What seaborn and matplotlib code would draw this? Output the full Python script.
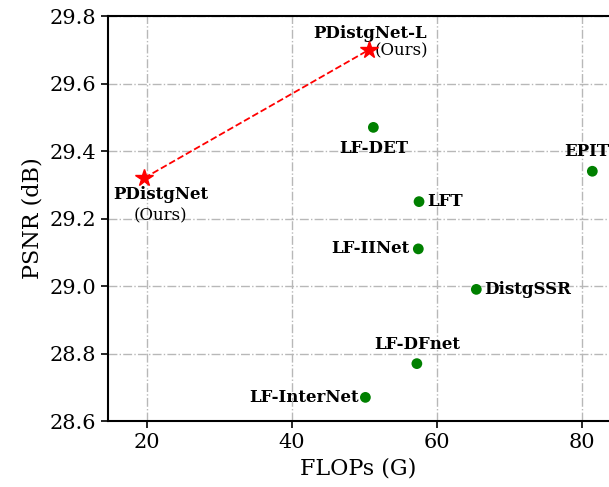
import numpy as np
import pandas as pd
import seaborn as sns
from matplotlib import pyplot as plt

# Other methods (green dots)
methods = ["LF-DET", "LFT", "LF-IINet", "DistgSSR", "LF-DFnet", "LF-InterNet", "EPIT"]
flops = [51.2, 57.5, 57.4, 65.4, 57.2, 50.1, 81.4]
psnr = [29.47, 29.25, 29.11, 28.99, 28.77, 28.67, 29.34]

# Ours (red stars)
ours_names = ["PDistgNet", "PDistgNet-L"]
ours_flops = [19.6, 50.6]
ours_psnr = [29.32, 29.70]

x_ticks = [20, 40, 60, 80]
y_ticks = [28.6, 28.8, 29.0, 29.2, 29.4, 29.6, 29.8]

df = pd.DataFrame({"method": methods, "flops": flops, "psnr": psnr})

sns.set_style("white")
plt.rcParams["font.family"] = ["DejaVu Serif"]
plt.rcParams["text.color"] = "black"
plt.rcParams["axes.labelcolor"] = "black"
plt.rcParams["xtick.color"] = "black"
plt.rcParams["ytick.color"] = "black"

fig = plt.figure(figsize=(6.09, 4.87), dpi=100)
ax = fig.add_axes([108 / 609, 66 / 487, 1 - 108 / 609, (471 - 66) / 487])

ax.grid(True, color="#b8b8b8", linestyle="-.", linewidth=1.0)
ax.set_axisbelow(True)

ax.plot(ours_flops, ours_psnr, color="red", linestyle="--", linewidth=1.3, zorder=3)
ax.plot(ours_flops, ours_psnr, linestyle="none", marker="*", color="red",
        markersize=13, zorder=4)
sns.scatterplot(data=df, x="flops", y="psnr", color="green", s=60,
                edgecolor="none", ax=ax, zorder=4)

# label offsets in points (dx, dy, ha, va)
label_pos = {
    "LF-DET": (0, -9, "center", "top"),
    "LFT": (6, 0, "left", "center"),
    "LF-IINet": (-6, 0, "right", "center"),
    "DistgSSR": (6, 0, "left", "center"),
    "LF-DFnet": (0, 8, "center", "bottom"),
    "LF-InterNet": (-5, 0, "right", "center"),
    "EPIT": (-4, 8, "center", "bottom"),
}
for m, x, y in zip(methods, flops, psnr):
    dx, dy, ha, va = label_pos[m]
    ax.annotate(m, (x, y), xytext=(dx, dy), textcoords="offset points",
                ha=ha, va=va, fontsize=12, fontweight="bold")

# ours labels
ax.annotate(ours_names[0], (ours_flops[0], ours_psnr[0]), xytext=(12, -12),
            textcoords="offset points", ha="center", va="center",
            fontsize=12, fontweight="bold")
ax.annotate("(Ours)", (ours_flops[0], ours_psnr[0]), xytext=(12, -27),
            textcoords="offset points", ha="center", va="center", fontsize=12)
ax.annotate(ours_names[1], (ours_flops[1], ours_psnr[1]), xytext=(1, 12),
            textcoords="offset points", ha="center", va="center",
            fontsize=12, fontweight="bold")
ax.annotate("(Ours)", (ours_flops[1], ours_psnr[1]), xytext=(23, -1),
            textcoords="offset points", ha="center", va="center", fontsize=12)

ax.set_xlim(14.6, 83.7)
ax.set_ylim(28.6, 29.8)
ax.set_xticks(x_ticks)
ax.set_yticks(y_ticks)
ax.set_yticklabels([f"{v:.1f}" for v in y_ticks])
ax.tick_params(axis="both", labelsize=15, direction="out", length=5, width=1.2,
               left=True, bottom=True, color="black")
ax.set_xlabel("FLOPs (G)", fontsize=16)
ax.set_ylabel("PSNR (dB)", fontsize=16)

for side in ["left", "bottom", "top"]:
    ax.spines[side].set_color("black")
    ax.spines[side].set_linewidth(1.5)
ax.spines["right"].set_visible(False)

fig.savefig("out.png", dpi=100)
